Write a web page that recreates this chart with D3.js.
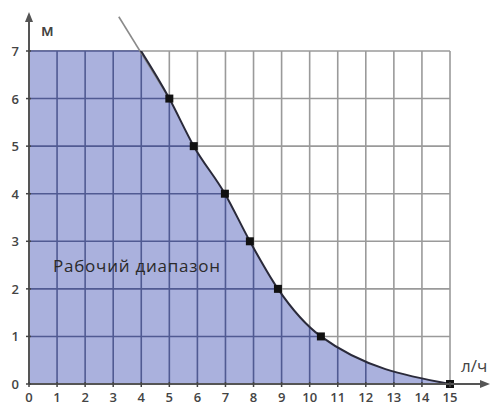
<!DOCTYPE html>
<html><head><meta charset="utf-8">
<script src="https://cdn.jsdelivr.net/npm/d3@7"></script>
<style>body{margin:0;background:#fff}svg{display:block}</style>
</head><body><svg id="c" width="492" height="407"></svg>
<script>
const xTicks = [0,1,2,3,4,5,6,7,8,9,10,11,12,13,14,15];
const yTicks = [0,1,2,3,4,5,6,7];
const curveX = [3.2, 5, 5.87, 6.98, 7.87, 8.87, 10.4, 15];
const curveY = [7.72, 6, 5, 4, 3, 2, 1, 0];
const markerIdx = [1,2,3,4,5,6,7];
const xLabel = "л/ч", yLabel = "м", areaLabel = "Рабочий диапазон";

const svg = d3.select("#c");
const x = d3.scaleLinear().domain([0,15]).range([29,450]);
const y = d3.scaleLinear().domain([0,7]).range([384,51]);
const pts = curveX.map((v,i)=>[v,curveY[i]]);
const lineGen = d3.line().x(d=>x(d[0])).y(d=>y(d[1])).curve(d3.curveMonotoneX);
const lp = lineGen(pts);
const regionPath = `M${x(0)},${y(0)} L${x(0)},${y(curveY[0])} ` + "L" + lp.slice(1) + ` L${x(15)},${y(0)} Z`;

const defs = svg.append("defs");
defs.append("clipPath").attr("id","box").append("rect")
  .attr("x",x(0)).attr("y",y(7)).attr("width",x(15)-x(0)).attr("height",y(0)-y(7));
defs.append("clipPath").attr("id","under").append("path").attr("d",regionPath);

function grid(sel, col){
  xTicks.slice(1).forEach(t=>sel.append("line").attr("x1",x(t)).attr("x2",x(t)).attr("y1",y(0)).attr("y2",y(7)).attr("stroke",col).attr("stroke-width",1.6));
  yTicks.slice(1).forEach(t=>sel.append("line").attr("x1",x(0)).attr("x2",x(15)).attr("y1",y(t)).attr("y2",y(t)).attr("stroke",col).attr("stroke-width",1.6));
}
grid(svg.append("g"),"#9a9a9a");
svg.append("g").attr("clip-path","url(#box)").append("path").attr("d",regionPath).attr("fill","#aab1dd");
grid(svg.append("g").attr("clip-path","url(#under)"),"#505a92");

// curve
svg.append("path").attr("d",lineGen(pts.slice(0,2))).attr("fill","none").attr("stroke","#8a8a8a").attr("stroke-width",1.6);
defs.append("clipPath").attr("id","low").append("rect").attr("x",0).attr("y",y(7)).attr("width",492).attr("height",400);
svg.append("path").attr("d",lp).attr("fill","none").attr("stroke","#2a2a3a").attr("stroke-width",2).attr("clip-path","url(#low)");
markerIdx.forEach(i=>svg.append("rect").attr("x",x(curveX[i])-4).attr("y",y(curveY[i])-4).attr("width",8).attr("height",8).attr("fill","#111"));

// axes
const ax = svg.append("g");
ax.append("line").attr("x1",x(0)).attr("x2",x(0)).attr("y1",y(0)).attr("y2",20).attr("stroke","#555").attr("stroke-width",2);
ax.append("path").attr("d",`M${x(0)-4},22 L${x(0)},12 L${x(0)+4},22 Z`).attr("fill","#555");
ax.append("line").attr("x1",x(0)).attr("x2",482).attr("y1",y(0)).attr("y2",y(0)).attr("stroke","#555").attr("stroke-width",2);
ax.append("path").attr("d",`M480,${y(0)-4} L490,${y(0)} L480,${y(0)+4} Z`).attr("fill","#555");
xTicks.forEach(t=>{
  ax.append("line").attr("x1",x(t)).attr("x2",x(t)).attr("y1",y(0)-2).attr("y2",y(0)+3).attr("stroke","#444").attr("stroke-width",1.5);
  ax.append("text").attr("x",x(t)).attr("y",402).attr("text-anchor","middle").attr("font-family","Open Sans, sans-serif").attr("font-size",13).attr("font-weight",600).attr("fill","#444").text(t);
});
yTicks.forEach(t=>{
  ax.append("line").attr("x1",x(0)-3).attr("x2",x(0)+2).attr("y1",y(t)).attr("y2",y(t)).attr("stroke","#444").attr("stroke-width",1.5);
  ax.append("text").attr("x",19).attr("y",y(t)+5).attr("text-anchor","end").attr("font-family","Open Sans, sans-serif").attr("font-size",13).attr("font-weight",600).attr("fill","#444").text(t);
});
ax.append("text").attr("x",41).attr("y",36).attr("font-family","Open Sans, sans-serif").attr("font-size",16).attr("font-weight",600).attr("fill","#444").text(yLabel);
ax.append("text").attr("x",461).attr("y",372).attr("font-family","Open Sans, sans-serif").attr("font-size",17).attr("fill","#444").text(xLabel);
svg.append("text").attr("x",53).attr("y",272).attr("font-family","Open Sans, sans-serif").attr("font-size",17).attr("fill","#2a2a2a").attr("textLength",167).text(areaLabel);
</script></body></html>
